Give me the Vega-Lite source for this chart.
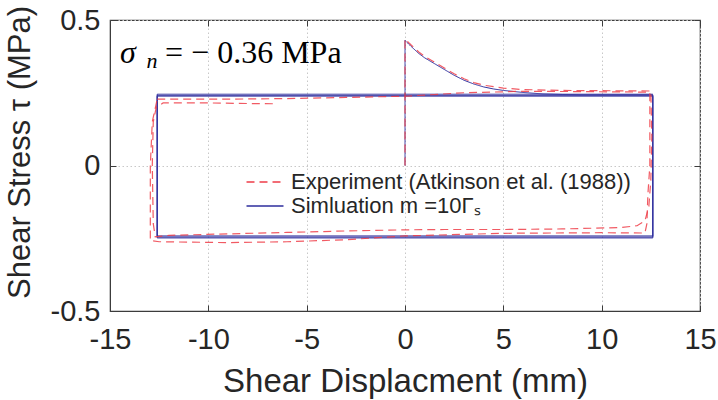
{
  "$schema": "https://vega.github.io/schema/vega-lite/v6.json",
  "width": 590,
  "height": 291,
  "autosize": {"type": "none"},
  "padding": {"left": 110, "top": 20, "right": 18, "bottom": 89},
  "background": "white",
  "config": {
    "view": {"stroke": "#3c3c3c", "strokeWidth": 1.2},
    "axis": {
      "labelFont": "Liberation Sans",
      "titleFont": "Liberation Sans",
      "labelColor": "#262626",
      "titleColor": "#262626",
      "labelFontSize": 29,
      "titleFontSize": 33,
      "titleFontWeight": "normal",
      "domainColor": "#3c3c3c",
      "tickColor": "#3c3c3c",
      "gridColor": "#c8c8c8",
      "gridDash": [1.5, 2.5],
      "gridWidth": 1,
      "tickSize": -6
    },
    "legend": {
      "orient": "none",
      "legendX": 144,
      "legendY": 151,
      "padding": 0,
      "title": null,
      "labelFont": "Liberation Sans",
      "labelFontSize": 22,
      "labelColor": "#262626",
      "labelOffset": 15,
      "labelLimit": 0,
      "symbolType": "M-3,0L3,0",
      "symbolSize": 152,
      "symbolStrokeWidth": 1.5,
      "rowPadding": 2
    }
  },
  "resolve": {"axis": {"x": "independent", "y": "independent"}},
  "datasets": {
    "sim": [
      {"series": "Simluation m =10Γₛ", "seg": 1, "i": 1, "x": 0, "y": 0},
      {"series": "Simluation m =10Γₛ", "seg": 1, "i": 2, "x": 0, "y": 0.43},
      {"series": "Simluation m =10Γₛ", "seg": 1, "i": 3, "x": 0.3, "y": 0.41},
      {"series": "Simluation m =10Γₛ", "seg": 1, "i": 4, "x": 0.7, "y": 0.385},
      {"series": "Simluation m =10Γₛ", "seg": 1, "i": 5, "x": 1, "y": 0.37},
      {"series": "Simluation m =10Γₛ", "seg": 1, "i": 6, "x": 1.5, "y": 0.35},
      {"series": "Simluation m =10Γₛ", "seg": 1, "i": 7, "x": 2, "y": 0.33},
      {"series": "Simluation m =10Γₛ", "seg": 1, "i": 8, "x": 2.5, "y": 0.31},
      {"series": "Simluation m =10Γₛ", "seg": 1, "i": 9, "x": 3, "y": 0.293},
      {"series": "Simluation m =10Γₛ", "seg": 1, "i": 10, "x": 3.5, "y": 0.28},
      {"series": "Simluation m =10Γₛ", "seg": 1, "i": 11, "x": 4, "y": 0.27},
      {"series": "Simluation m =10Γₛ", "seg": 1, "i": 12, "x": 4.5, "y": 0.263},
      {"series": "Simluation m =10Γₛ", "seg": 1, "i": 13, "x": 5, "y": 0.258},
      {"series": "Simluation m =10Γₛ", "seg": 1, "i": 14, "x": 6, "y": 0.251},
      {"series": "Simluation m =10Γₛ", "seg": 1, "i": 15, "x": 7, "y": 0.246},
      {"series": "Simluation m =10Γₛ", "seg": 1, "i": 16, "x": 8, "y": 0.244},
      {"series": "Simluation m =10Γₛ", "seg": 1, "i": 17, "x": 9, "y": 0.243},
      {"series": "Simluation m =10Γₛ", "seg": 1, "i": 18, "x": 12.6, "y": 0.243},
      {"series": "Simluation m =10Γₛ", "seg": 1, "i": 19, "x": 12.6, "y": -0.242},
      {"series": "Simluation m =10Γₛ", "seg": 1, "i": 20, "x": -12.6, "y": -0.242},
      {"series": "Simluation m =10Γₛ", "seg": 1, "i": 21, "x": -12.6, "y": 0.238},
      {"series": "Simluation m =10Γₛ", "seg": 1, "i": 22, "x": 12.6, "y": 0.238},
      {"series": "Simluation m =10Γₛ", "seg": 1, "i": 23, "x": 12.6, "y": -0.246},
      {"series": "Simluation m =10Γₛ", "seg": 1, "i": 24, "x": -12.6, "y": -0.246},
      {"series": "Simluation m =10Γₛ", "seg": 1, "i": 25, "x": -12.6, "y": 0.241},
      {"series": "Simluation m =10Γₛ", "seg": 1, "i": 26, "x": 12.6, "y": 0.241},
      {"series": "Simluation m =10Γₛ", "seg": 1, "i": 27, "x": 12.6, "y": -0.249},
      {"series": "Simluation m =10Γₛ", "seg": 1, "i": 28, "x": -12.6, "y": -0.249},
      {"series": "Simluation m =10Γₛ", "seg": 1, "i": 29, "x": -12.6, "y": 0.245},
      {"series": "Simluation m =10Γₛ", "seg": 1, "i": 30, "x": 12.6, "y": 0.245}
    ],
    "exp": [
      {"series": "Experiment (Atkinson et al. (1988))", "seg": 1, "i": 1, "x": 0, "y": 0},
      {"series": "Experiment (Atkinson et al. (1988))", "seg": 1, "i": 2, "x": 0, "y": 0.435},
      {"series": "Experiment (Atkinson et al. (1988))", "seg": 1, "i": 3, "x": 0.3, "y": 0.415},
      {"series": "Experiment (Atkinson et al. (1988))", "seg": 1, "i": 4, "x": 0.7, "y": 0.39},
      {"series": "Experiment (Atkinson et al. (1988))", "seg": 1, "i": 5, "x": 1, "y": 0.375},
      {"series": "Experiment (Atkinson et al. (1988))", "seg": 1, "i": 6, "x": 1.5, "y": 0.355},
      {"series": "Experiment (Atkinson et al. (1988))", "seg": 1, "i": 7, "x": 2, "y": 0.335},
      {"series": "Experiment (Atkinson et al. (1988))", "seg": 1, "i": 8, "x": 2.5, "y": 0.315},
      {"series": "Experiment (Atkinson et al. (1988))", "seg": 1, "i": 9, "x": 3, "y": 0.298},
      {"series": "Experiment (Atkinson et al. (1988))", "seg": 1, "i": 10, "x": 3.5, "y": 0.285},
      {"series": "Experiment (Atkinson et al. (1988))", "seg": 1, "i": 11, "x": 4, "y": 0.276},
      {"series": "Experiment (Atkinson et al. (1988))", "seg": 1, "i": 12, "x": 5, "y": 0.266},
      {"series": "Experiment (Atkinson et al. (1988))", "seg": 1, "i": 13, "x": 6, "y": 0.261},
      {"series": "Experiment (Atkinson et al. (1988))", "seg": 1, "i": 14, "x": 8, "y": 0.258},
      {"series": "Experiment (Atkinson et al. (1988))", "seg": 1, "i": 15, "x": 10, "y": 0.257},
      {"series": "Experiment (Atkinson et al. (1988))", "seg": 1, "i": 16, "x": 12.5, "y": 0.256},
      {"series": "Experiment (Atkinson et al. (1988))", "seg": 1, "i": 17, "x": 12.55, "y": 0.1},
      {"series": "Experiment (Atkinson et al. (1988))", "seg": 1, "i": 18, "x": 12.5, "y": -0.05},
      {"series": "Experiment (Atkinson et al. (1988))", "seg": 1, "i": 19, "x": 12.4, "y": -0.14},
      {"series": "Experiment (Atkinson et al. (1988))", "seg": 1, "i": 20, "x": 12.2, "y": -0.19},
      {"series": "Experiment (Atkinson et al. (1988))", "seg": 1, "i": 21, "x": 11.8, "y": -0.207},
      {"series": "Experiment (Atkinson et al. (1988))", "seg": 1, "i": 22, "x": 11, "y": -0.213},
      {"series": "Experiment (Atkinson et al. (1988))", "seg": 1, "i": 23, "x": 8, "y": -0.218},
      {"series": "Experiment (Atkinson et al. (1988))", "seg": 1, "i": 24, "x": 5, "y": -0.22},
      {"series": "Experiment (Atkinson et al. (1988))", "seg": 1, "i": 25, "x": 2, "y": -0.22},
      {"series": "Experiment (Atkinson et al. (1988))", "seg": 1, "i": 26, "x": 0, "y": -0.221},
      {"series": "Experiment (Atkinson et al. (1988))", "seg": 1, "i": 27, "x": -3, "y": -0.225},
      {"series": "Experiment (Atkinson et al. (1988))", "seg": 1, "i": 28, "x": -6, "y": -0.23},
      {"series": "Experiment (Atkinson et al. (1988))", "seg": 1, "i": 29, "x": -9, "y": -0.235},
      {"series": "Experiment (Atkinson et al. (1988))", "seg": 1, "i": 30, "x": -12, "y": -0.24},
      {"series": "Experiment (Atkinson et al. (1988))", "seg": 1, "i": 31, "x": -12.7, "y": -0.245},
      {"series": "Experiment (Atkinson et al. (1988))", "seg": 1, "i": 32, "x": -12.8, "y": -0.2},
      {"series": "Experiment (Atkinson et al. (1988))", "seg": 1, "i": 33, "x": -12.85, "y": 0},
      {"series": "Experiment (Atkinson et al. (1988))", "seg": 1, "i": 34, "x": -12.8, "y": 0.15},
      {"series": "Experiment (Atkinson et al. (1988))", "seg": 1, "i": 35, "x": -12.65, "y": 0.2},
      {"series": "Experiment (Atkinson et al. (1988))", "seg": 1, "i": 36, "x": -12.3, "y": 0.215},
      {"series": "Experiment (Atkinson et al. (1988))", "seg": 1, "i": 37, "x": -10, "y": 0.215},
      {"series": "Experiment (Atkinson et al. (1988))", "seg": 1, "i": 38, "x": -8, "y": 0.213},
      {"series": "Experiment (Atkinson et al. (1988))", "seg": 1, "i": 39, "x": -6.5, "y": 0.212},
      {"series": "Experiment (Atkinson et al. (1988))", "seg": 2, "i": 1, "x": -12.6, "y": 0.228},
      {"series": "Experiment (Atkinson et al. (1988))", "seg": 2, "i": 2, "x": -9, "y": 0.228},
      {"series": "Experiment (Atkinson et al. (1988))", "seg": 2, "i": 3, "x": -6, "y": 0.23},
      {"series": "Experiment (Atkinson et al. (1988))", "seg": 2, "i": 4, "x": -3, "y": 0.234},
      {"series": "Experiment (Atkinson et al. (1988))", "seg": 2, "i": 5, "x": 0, "y": 0.238},
      {"series": "Experiment (Atkinson et al. (1988))", "seg": 2, "i": 6, "x": 3, "y": 0.25},
      {"series": "Experiment (Atkinson et al. (1988))", "seg": 2, "i": 7, "x": 6, "y": 0.255},
      {"series": "Experiment (Atkinson et al. (1988))", "seg": 2, "i": 8, "x": 9, "y": 0.254},
      {"series": "Experiment (Atkinson et al. (1988))", "seg": 2, "i": 9, "x": 12.45, "y": 0.252},
      {"series": "Experiment (Atkinson et al. (1988))", "seg": 2, "i": 10, "x": 12.45, "y": 0},
      {"series": "Experiment (Atkinson et al. (1988))", "seg": 2, "i": 11, "x": 12.35, "y": -0.1},
      {"series": "Experiment (Atkinson et al. (1988))", "seg": 2, "i": 12, "x": 12.3, "y": -0.2},
      {"series": "Experiment (Atkinson et al. (1988))", "seg": 2, "i": 13, "x": 12.2, "y": -0.232},
      {"series": "Experiment (Atkinson et al. (1988))", "seg": 2, "i": 14, "x": 10, "y": -0.231},
      {"series": "Experiment (Atkinson et al. (1988))", "seg": 2, "i": 15, "x": 5, "y": -0.233},
      {"series": "Experiment (Atkinson et al. (1988))", "seg": 2, "i": 16, "x": 0, "y": -0.242},
      {"series": "Experiment (Atkinson et al. (1988))", "seg": 2, "i": 17, "x": -3, "y": -0.255},
      {"series": "Experiment (Atkinson et al. (1988))", "seg": 2, "i": 18, "x": -6, "y": -0.262},
      {"series": "Experiment (Atkinson et al. (1988))", "seg": 2, "i": 19, "x": -9, "y": -0.265},
      {"series": "Experiment (Atkinson et al. (1988))", "seg": 2, "i": 20, "x": -12.5, "y": -0.262},
      {"series": "Experiment (Atkinson et al. (1988))", "seg": 2, "i": 21, "x": -12.95, "y": -0.258},
      {"series": "Experiment (Atkinson et al. (1988))", "seg": 2, "i": 22, "x": -12.95, "y": 0},
      {"series": "Experiment (Atkinson et al. (1988))", "seg": 2, "i": 23, "x": -12.85, "y": 0.15},
      {"series": "Experiment (Atkinson et al. (1988))", "seg": 2, "i": 24, "x": -12.6, "y": 0.228}
    ]
  },
  "layer": [
    {
      "data": {"name": "sim"},
      "mark": {"type": "line", "strokeWidth": 1, "interpolate": "linear"},
      "encoding": {
        "x": {
          "field": "x", "type": "quantitative",
          "scale": {"domain": [-15, 15], "nice": false, "zero": false},
          "axis": {"values": [-15, -10, -5, 0, 5, 10, 15], "title": "Shear Displacment (mm)", "grid": true, "labelExpr": "toString(datum.value)", "labelPadding": 20, "titlePadding": 11, "labelFlush": false}
        },
        "y": {
          "field": "y", "type": "quantitative",
          "scale": {"domain": [-0.5, 0.5], "nice": false, "zero": false},
          "axis": {"values": [-0.5, 0, 0.5], "title": "Shear Stress τ (MPa)", "titleFontSize": 31, "titleX": -74, "titleY": 132, "grid": true, "labelExpr": "toString(datum.value)", "labelPadding": 16, "labelFlush": false}
        },
        "color": {
          "field": "series", "type": "nominal",
          "scale": {"domain": ["Experiment (Atkinson et al. (1988))", "Simluation m =10Γₛ"], "range": ["#ee3d48", "#2c2c9c"]},
          "legend": {"encode": {"symbols": {"update": {"stroke": {"scale": "color", "field": "value"}}}}}
        },
        "strokeDash": {
          "field": "series", "type": "nominal",
          "scale": {"domain": ["Experiment (Atkinson et al. (1988))", "Simluation m =10Γₛ"], "range": [[8, 5], [1, 0]]}
        },
        "detail": {"field": "seg"},
        "order": {"field": "i", "type": "quantitative"}
      }
    },
    {
      "data": {"name": "exp"},
      "mark": {"type": "line", "strokeWidth": 1.2, "opacity": 0.85},
      "encoding": {
        "x": {"field": "x", "type": "quantitative", "axis": {"orient": "top", "values": [-15, -10, -5, 0, 5, 10, 15], "labels": false, "title": null, "grid": false, "domain": false, "ticks": true}},
        "y": {"field": "y", "type": "quantitative", "axis": {"orient": "right", "values": [-0.5, 0, 0.5], "labels": false, "title": null, "grid": false, "domain": false, "ticks": true}},
        "color": {"field": "series", "type": "nominal"},
        "strokeDash": {"field": "series", "type": "nominal"},
        "detail": {"field": "seg"},
        "order": {"field": "i", "type": "quantitative"}
      }
    },
    {
      "data": {"values": [{}]},
      "mark": {"type": "text", "text": "σ", "font": "Liberation Serif", "fontStyle": "italic", "fontSize": 32, "align": "left", "baseline": "alphabetic", "color": "#000000"},
      "encoding": {
        "x": {"datum": -14.49, "type": "quantitative", "axis": null},
        "y": {"datum": 0.352, "type": "quantitative", "axis": null}
      }
    },
    {
      "data": {"values": [{}]},
      "mark": {"type": "text", "text": "n", "font": "Liberation Serif", "fontStyle": "italic", "fontSize": 22, "align": "left", "baseline": "alphabetic", "color": "#000000"},
      "encoding": {
        "x": {"datum": -13.15, "type": "quantitative", "axis": null},
        "y": {"datum": 0.336, "type": "quantitative", "axis": null}
      }
    },
    {
      "data": {"values": [{}]},
      "mark": {"type": "text", "text": "= − 0.36 MPa", "font": "Liberation Serif", "fontSize": 32, "align": "left", "baseline": "alphabetic", "color": "#000000"},
      "encoding": {
        "x": {"datum": -12.2, "type": "quantitative", "axis": null},
        "y": {"datum": 0.352, "type": "quantitative", "axis": null}
      }
    }
  ]
}
